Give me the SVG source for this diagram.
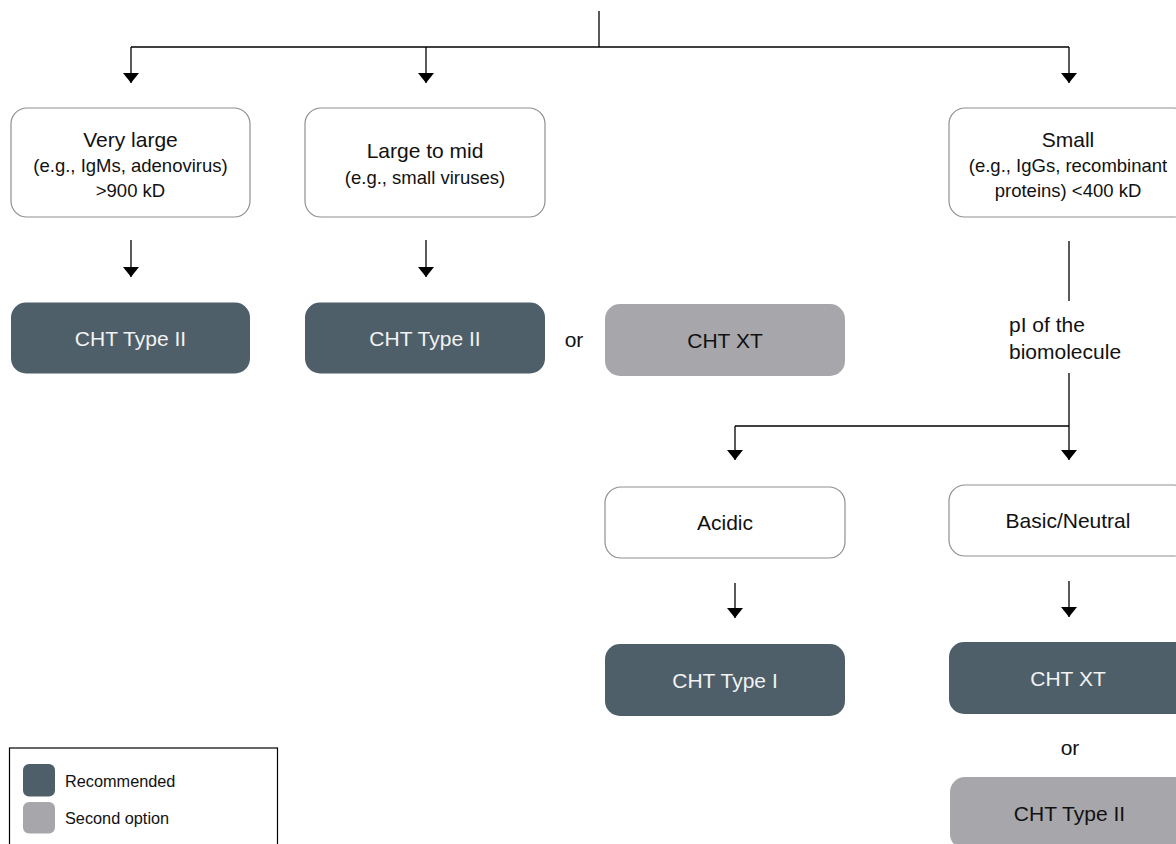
<svg xmlns="http://www.w3.org/2000/svg" width="1176" height="844" viewBox="0 0 1176 844">
<defs>
<marker id="ah" viewBox="0 0 10 16" refX="10" refY="8" markerWidth="10" markerHeight="16" markerUnits="userSpaceOnUse" orient="auto">
<path d="M0,0 L10,8 L0,16 Z" fill="#000"/>
</marker>
<style>
.box{fill:#fff;stroke:#8f8f8f;stroke-width:1.2}
.rec{fill:#4f5f6a}
.sec{fill:#a7a6aa}
.t{font-family:"Liberation Sans",Arial,sans-serif;text-anchor:middle;fill:#111}
.l{text-anchor:start}
.w{fill:#f2f2f2}
.h{font-size:21px}
.s{font-size:18.5px}
.c{fill:none;stroke:#000;stroke-width:1.3}
</style>
</defs>
<rect width="1176" height="844" fill="#fff"/>
<g id="connectors">
<path class="c" d="M599,11 V47"/>
<path class="c" d="M131,47 H1069"/>
<path class="c" d="M131,47 V83" marker-end="url(#ah)"/>
<path class="c" d="M426,47 V83" marker-end="url(#ah)"/>
<path class="c" d="M1069,47 V83" marker-end="url(#ah)"/>
<path class="c" d="M131,240 V277" marker-end="url(#ah)"/>
<path class="c" d="M426,240 V277" marker-end="url(#ah)"/>
<path class="c" d="M1069,241 V301"/>
<path class="c" d="M1069,373 V460" marker-end="url(#ah)"/>
<path class="c" d="M735,426 H1069"/>
<path class="c" d="M735,426 V460" marker-end="url(#ah)"/>
<path class="c" d="M735,583 V618" marker-end="url(#ah)"/>
<path class="c" d="M1069,581 V617" marker-end="url(#ah)"/>
</g>
<g id="very-large">
<rect class="box" x="11" y="108" width="239" height="109" rx="16"/>
<text class="t h" x="130.5" y="146.5">Very large</text>
<text class="t s" x="130.5" y="171.5">(e.g., IgMs, adenovirus)</text>
<text class="t s" x="130.5" y="196.5">&gt;900 kD</text>
</g>
<g id="large-mid">
<rect class="box" x="305" y="108" width="240" height="109" rx="16"/>
<text class="t h" x="425" y="158">Large to mid</text>
<text class="t s" x="425" y="183.5">(e.g., small viruses)</text>
</g>
<g id="small">
<rect class="box" x="949" y="108" width="240" height="109" rx="16"/>
<text class="t h" x="1068" y="146.5">Small</text>
<text class="t s" x="1068" y="171.5">(e.g., IgGs, recombinant</text>
<text class="t s" x="1068" y="196.5">proteins) &lt;400 kD</text>
</g>
<g id="cht2-a">
<rect class="rec" x="11" y="302.5" width="239" height="71" rx="15"/>
<text class="t w h" x="130.5" y="345.5">CHT Type II</text>
</g>
<g id="cht2-b">
<rect class="rec" x="305" y="302.5" width="240" height="71" rx="15"/>
<text class="t w h" x="425" y="345.5">CHT Type II</text>
</g>
<g id="or1">
<text class="t h" x="574" y="347">or</text>
</g>
<g id="chtxt-sec">
<rect class="sec" x="605" y="304" width="240" height="72" rx="15"/>
<text class="t h" x="725" y="347.5">CHT XT</text>
</g>
<g id="pi-label">
<text class="t h l" x="1009" y="332">pI of the</text>
<text class="t h l" x="1009" y="359">biomolecule</text>
</g>
<g id="acidic">
<rect class="box" x="605" y="487" width="240" height="71" rx="16"/>
<text class="t h" x="725" y="530">Acidic</text>
</g>
<g id="basic">
<rect class="box" x="949" y="485" width="240" height="71" rx="16"/>
<text class="t h" x="1068" y="528">Basic/Neutral</text>
</g>
<g id="cht1">
<rect class="rec" x="605" y="644" width="240" height="72" rx="15"/>
<text class="t w h" x="725" y="687.5">CHT Type I</text>
</g>
<g id="chtxt-rec">
<rect class="rec" x="949" y="642" width="240" height="72" rx="15"/>
<text class="t w h" x="1068" y="685.5">CHT XT</text>
</g>
<g id="or2">
<text class="t h" x="1070" y="755">or</text>
</g>
<g id="cht2-sec">
<rect class="sec" x="950" y="777" width="240" height="72" rx="15"/>
<text class="t h" x="1069.5" y="821">CHT Type II</text>
</g>
<g id="legend">
<rect x="9.5" y="748" width="268" height="110" fill="#fff" stroke="#000" stroke-width="1.2"/>
<rect class="rec" x="23" y="764" width="32" height="32.5" rx="6"/>
<rect class="sec" x="23" y="802" width="32" height="31.5" rx="6"/>
<text class="t l" x="65" y="786.5" font-size="16.3">Recommended</text>
<text class="t l" x="65" y="824" font-size="16.3">Second option</text>
</g>
</svg>
